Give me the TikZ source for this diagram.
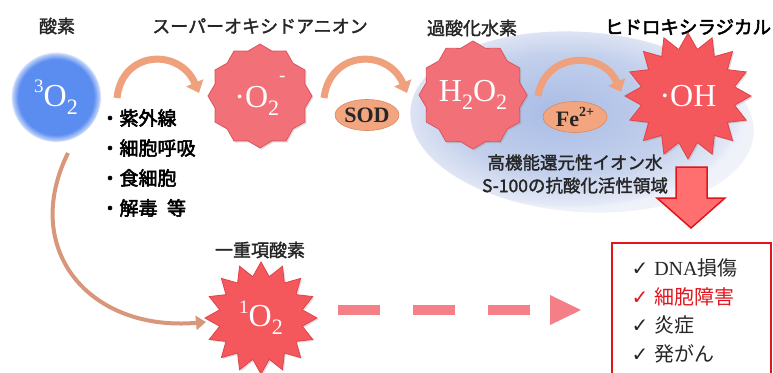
\documentclass[tikz,border=0pt]{standalone}
\usepackage{fontspec}
\setmainfont{Liberation Serif}
\newfontfamily\jp{Noto Sans CJK JP}
\newfontfamily\jpm{Noto Sans CJK JP}[FakeBold=1.8]
\newfontfamily\jpb{Noto Sans CJK JP}[FakeBold=2.8]
\newfontfamily\sym{DejaVu Sans}
\usetikzlibrary{shapes.geometric,arrows.meta,shadows}
\definecolor{ballc}{HTML}{5B8CF0}
\definecolor{zin}{HTML}{A9BCE6}
\definecolor{zmid}{HTML}{C3D0EC}
\definecolor{zout}{HTML}{E3E8F5}
\definecolor{tanA}{HTML}{EFA07C}
\definecolor{tanF}{HTML}{F2A57F}
\definecolor{tanD}{HTML}{D88A63}
\definecolor{starLF}{HTML}{F27078}
\definecolor{starLD}{HTML}{DC5660}
\definecolor{starHF}{HTML}{F4585D}
\definecolor{starHD}{HTML}{E0444A}
\definecolor{boxred}{HTML}{E3141B}
\definecolor{arrF}{HTML}{FF6F6F}
\definecolor{dashc}{HTML}{F57F86}
\definecolor{longc}{HTML}{D8977A}
\definecolor{txt}{HTML}{262626}
\pgfdeclareradialshading{softball}{\pgfpoint{0bp}{0bp}}{color(0bp)=(ballc); color(21bp)=(ballc); color(24.5bp)=(ballc!35!white); color(25bp)=(white); color(50bp)=(white)}
\pgfdeclareradialshading{zoneshade}{\pgfpoint{-4bp}{2bp}}{color(0bp)=(zin); color(16bp)=(zmid); color(24bp)=(zout); color(25bp)=(zout!60!white); color(50bp)=(white)}
\newcommand\chsub[1]{\raisebox{-0.25em}{\fontsize{22}{22}\selectfont #1}}
\newcommand\chsup[1]{\raisebox{0.42em}{\fontsize{19}{19}\selectfont #1}}
\newcommand\chminus{\raisebox{0.8em}{\fontsize{19}{19}\selectfont -}}
\tikzset{
  lbl/.style={font=\jpm\fontsize{18}{18}\selectfont, text=txt},
  sealL/.style={star, star points=12, star point ratio=1.12, fill=starLF, draw=starLD, line width=0.8pt, inner sep=0pt, text=white, font=\fontsize{32}{32}\selectfont, drop shadow={opacity=0.25, shadow xshift=1.5pt, shadow yshift=-1.5pt}},
  sealH/.style={star, star points=16, star point ratio=1.33, fill=starHF, draw=starHD, line width=0.8pt, inner sep=0pt, text=white, font=\fontsize{32}{32}\selectfont, drop shadow={opacity=0.25, shadow xshift=1.5pt, shadow yshift=-1.5pt}},
  enz/.style={ellipse, fill=tanF, draw=tanD, line width=0.6pt, inner sep=0pt, font=\bfseries\fontsize{22}{22}\selectfont, text=txt},
  arcarrow/.style={draw=tanA, line width=7pt, -{Triangle[width=18pt,length=11pt]}},
  longarrow/.style={draw=longc, line width=4pt, -{Triangle[width=14pt,length=10pt]}},
}
\newcommand\ck{{\sym\fontsize{20}{20}\selectfont ✓}\hspace{0.3em}}
\begin{document}
\begin{tikzpicture}[x=1pt,y=-1pt]
\useasboundingbox (0,0) rectangle (773,372);
\fill[white] (0,0) rectangle (773,372);
% blue zone
\node[ellipse, minimum width=344pt, minimum height=180pt, shading=zoneshade, rotate=-4] (zone) at (582,122) {};
\node[font=\jpm\fontsize{17.5}{23}\selectfont, text=txt, align=center] (zonetxt) at (575,174) {高機能還元性イオン水\\S-100の抗酸化活性領域};
% labels
\node[lbl] (l1) at (57,26) {酸素};
\node[lbl] (l2) at (260,26) {スーパーオキシドアニオン};
\node[lbl] (l3) at (472,28) {過酸化水素};
\node[font=\jpb\fontsize{18.5}{18.5}\selectfont, text=black] (l4) at (688,27) {ヒドロキシラジカル};
\node[lbl] (l5) at (260,250) {一重項酸素};
% triplet oxygen
\node[circle, minimum size=90pt, inner sep=0pt, shading=softball, text=white, font=\fontsize{32}{32}\selectfont] (o3) at (56,97) {\chsup{3}O\chsub{2}};
% species
\node[sealL, minimum size=104pt] (sup) at (260,96) {·O\chsub{2}\chminus};
\node[sealL, minimum size=104pt] (h2o2) at (473,95) {H\chsub{2}O\chsub{2}};
\node[sealH, minimum size=126pt] (oh) at (688,96) {·OH};
\node[sealH, minimum size=112pt] (so) at (261,318) {\chsup{1}O\chsub{2}};
% enzymes
\node[enz, minimum width=62pt, minimum height=31pt] (sod) at (367,115) {SOD};
\node[enz, minimum width=64pt, minimum height=31pt] (fe) at (575,117) {Fe\raisebox{0.42em}{\fontsize{14}{14}\selectfont 2+}};
% bullet list
\node[anchor=west, align=left, font=\jpb\fontsize{19}{30}\selectfont, text=black] (causes) at (97,163) {・紫外線\\・細胞呼吸\\・食細胞\\・解毒\hspace{0.5em}等};
% arc arrows
\coordinate (a1s) at (117,98);
\coordinate (a1e) at (199,93);
\coordinate (a2s) at (324,98);
\coordinate (a2e) at (407,93);
\coordinate (a3s) at (538,96);
\coordinate (a3e) at (621,92);
\draw[arcarrow] (a1s) .. controls (122,50) and (180,48) .. (a1e);
\draw[arcarrow] (a2s) .. controls (330,50) and (388,48) .. (a2e);
\draw[arcarrow] (a3s) .. controls (545,52) and (603,50) .. (a3e);
% long arrow
\coordinate (ls) at (68,153);
\coordinate (le) at (206,322);
\draw[longarrow] (ls) .. controls (20,250) and (90,332) .. (le);
% dashed arrow
\coordinate (ds) at (338,310);
\coordinate (de) at (530,310);
\draw[dashc, line width=10pt, dash pattern=on 42pt off 33pt] (ds) -- (de);
\fill[dashc] (550,295) -- (581,310) -- (550,325) -- cycle;
% big red arrow
\draw[fill=arrF, draw=boxred, line width=1.5pt, line join=miter] (676,167) -- (707,167) -- (707,198) -- (725,198) -- (691,228) -- (657,198) -- (676,198) -- cycle;
% result box
\begin{scope}
\clip (0,0) rectangle (773,372);
\node[draw=boxred, line width=2pt, minimum width=159pt, minimum height=150pt, anchor=north west, inner sep=0pt] (box) at (611,242) {};
\end{scope}
\node[anchor=west, align=left, font=\fontsize{20}{28.5}\selectfont, text=txt] (effects) at (628,311) {\ck DNA{\jp 損傷}\\
\textcolor{boxred}{\ck{\jp 細胞障害}}\\
\ck{\jp 炎症}\\
\ck{\jp 発がん}};
\end{tikzpicture}
\end{document}
